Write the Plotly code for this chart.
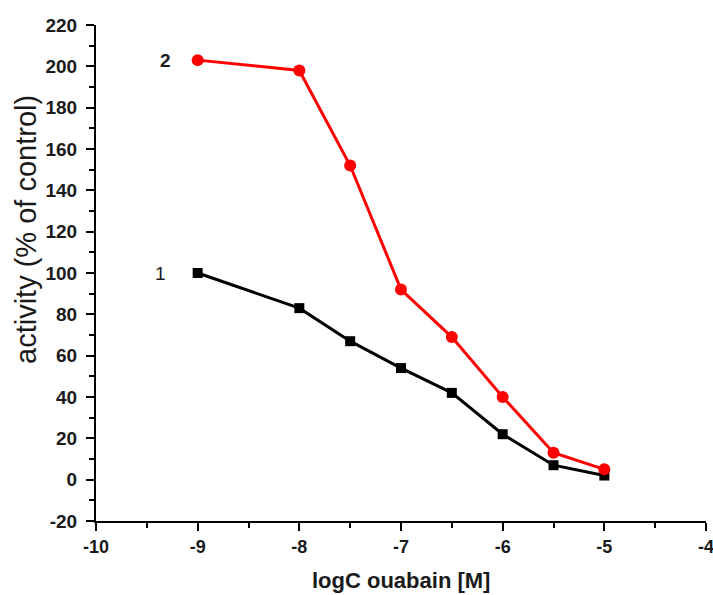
import plotly.graph_objects as go

log_conc = [-9, -8, -7.5, -7, -6.5, -6, -5.5, -5]
series1 = [100, 83, 67, 54, 42, 22, 7, 2]
series2 = [203, 198, 152, 92, 69, 40, 13, 5]
x_ticks = [-10, -9, -8, -7, -6, -5, -4]
y_ticks = [-20, 0, 20, 40, 60, 80, 100, 120, 140, 160, 180, 200, 220]

FONT = "Arial, Liberation Sans, sans-serif"
TXT = "#1a1a1a"

fig = go.Figure()
fig.add_trace(go.Scatter(x=log_conc, y=series1, mode="lines+markers",
                         line=dict(color="black", width=3),
                         marker=dict(symbol="square", size=10, color="black"),
                         showlegend=False))
fig.add_trace(go.Scatter(x=log_conc, y=series2, mode="lines+markers",
                         line=dict(color="#ff0000", width=3),
                         marker=dict(symbol="circle", size=12, color="#ff0000"),
                         showlegend=False))

fig.add_annotation(x=-9.32, y=series2[0], text="<b>2</b>", showarrow=False,
                   font=dict(family=FONT, size=19, color=TXT))
fig.add_annotation(x=-9.37, y=series1[0], text="1", showarrow=False,
                   font=dict(family=FONT, size=19, color=TXT))
fig.add_annotation(xref="paper", yref="paper", x=0, y=0.5, xshift=-88, yshift=43,
                   text="activity (% of control)", textangle=-90, showarrow=False,
                   font=dict(family=FONT, size=29, color=TXT))
fig.add_annotation(xref="paper", yref="paper", x=0.5, y=0, yshift=-59, yanchor="middle",
                   text="<b>logC ouabain [M]</b>", showarrow=False,
                   font=dict(family=FONT, size=22, color=TXT))

axis_common = dict(showline=True, linecolor="black", linewidth=2, ticks="outside",
                   ticklen=8, tickwidth=2, tickcolor="black", showgrid=False,
                   zeroline=False, ticklabeloverflow="allow", automargin=False)

fig.update_xaxes(range=[-10, -4], tickvals=x_ticks, ticktext=[str(v) for v in x_ticks],
                 tickfont=dict(family=FONT, size=18, color=TXT, weight="bold"),
                 minor=dict(ticks="outside", dtick=0.5, ticklen=5, tickwidth=2, tickcolor="black"),
                 **axis_common)
fig.update_yaxes(range=[-20, 220], tickvals=y_ticks, ticktext=[str(v) for v in y_ticks],
                 tickfont=dict(family=FONT, size=19, color=TXT, weight="bold"),
                 ticklabelstandoff=5,
                 minor=dict(ticks="outside", dtick=10, ticklen=5, tickwidth=2, tickcolor="black"),
                 **axis_common)

fig.update_layout(width=713, height=595, margin=dict(l=96, r=7, t=25, b=74),
                  plot_bgcolor="white", paper_bgcolor="white")
fig.write_html("out.html", config={"displayModeBar": False},
               post_script="document.body.style.margin='0';document.body.style.overflow='hidden';")
